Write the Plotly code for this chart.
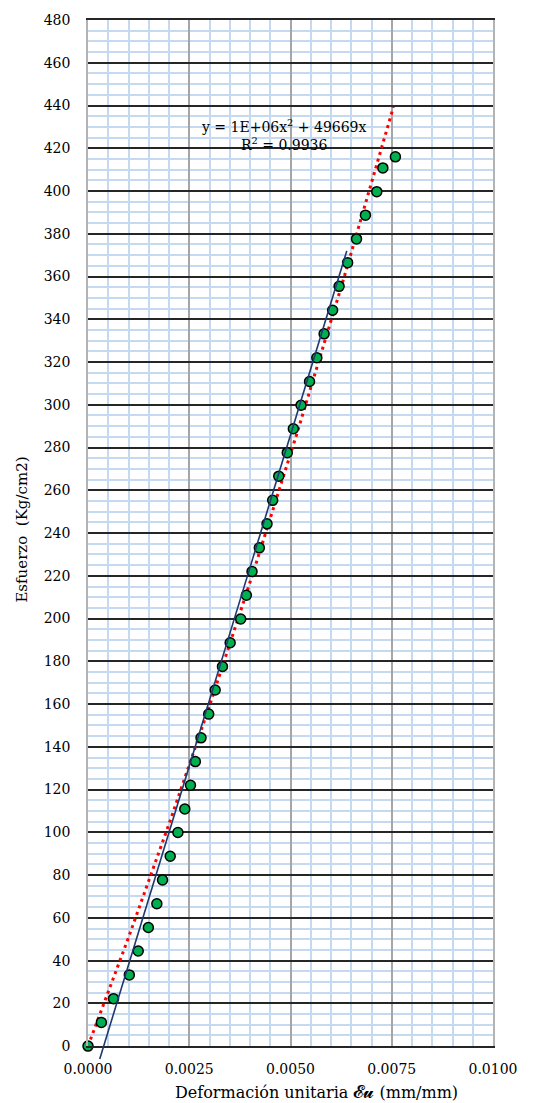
import numpy as np
import plotly.graph_objects as go

# ---- data ----
strain = [0.0, 0.00033, 0.00063, 0.00102, 0.00124, 0.00149, 0.00170, 0.00184, 0.00203,
          0.00222, 0.00239, 0.00253, 0.00265, 0.00279, 0.00298, 0.00314, 0.00332, 0.00351,
          0.00377, 0.00391, 0.00405, 0.00423, 0.00442, 0.00456, 0.00471, 0.00492, 0.00507,
          0.00526, 0.00547, 0.00565, 0.00583, 0.00604, 0.00620, 0.00641, 0.00663, 0.00685,
          0.00713, 0.00728, 0.00759]
stress = [0.0, 11.1, 22.2, 33.3, 44.5, 55.5, 66.6, 77.7, 88.8, 99.9, 110.9, 122.0, 133.1,
          144.2, 155.3, 166.6, 177.6, 188.7, 199.8, 210.9, 222.0, 233.1, 244.3, 255.3,
          266.6, 277.6, 288.8, 299.8, 310.9, 322.0, 333.2, 344.2, 355.4, 366.5, 377.6,
          388.7, 399.7, 410.8, 416.0]

# straight (modulus) line drawn on the chart: end points
modulus_x = [0.00029, 0.00639]
modulus_y = [-6.0, 372.0]

trend_a = 1.14e6
trend_b = 49669.0
trend_xmax = 0.00754

x_ticks = [0.0, 0.0025, 0.005, 0.0075, 0.01]
y_ticks = list(range(0, 481, 20))

eq_label = "y = 1E+06x<sup>2</sup> + 49669x<br>R<sup>2</sup> = 0.9936"

tx = np.linspace(0, trend_xmax, 200)
ty = trend_a * tx ** 2 + trend_b * tx

FONT = "DejaVu Serif"
W, H = 534, 1103
m_l, m_r, m_t, m_b = 88, 41, 13, 40
extra = 17  # px the modulus line may extend below the x axis
plot_h = H - m_t - m_b
plot_w = W - m_l - m_r
d0 = extra / plot_h
y2_low = -480 * d0 / (1 - d0)

fig = go.Figure()

fig.add_trace(go.Scatter(x=tx, y=ty, mode="lines",
                         line=dict(color="#FF0000", width=3, dash="3px,4px"),
                         hoverinfo="skip", showlegend=False))
fig.add_trace(go.Scatter(x=modulus_x, y=modulus_y, mode="lines",
                         line=dict(color="#1F3870", width=1.6),
                         xaxis="x2", yaxis="y2", showlegend=False))
fig.add_trace(go.Scatter(x=strain, y=stress, mode="markers",
                         marker=dict(size=10, color="#00B050",
                                     line=dict(color="#000000", width=1.5)),
                         showlegend=False, cliponaxis=False))

fig.update_layout(
    width=W, height=H,
    margin=dict(l=m_l, r=m_r, t=m_t, b=m_b),
    paper_bgcolor="white", plot_bgcolor="rgba(0,0,0,0)",
    font=dict(family=FONT, size=14, color="#000000"),
    xaxis=dict(range=[0, 0.01], tickvals=x_ticks, tickformat=".4f", domain=[0, 1],
               showgrid=True, gridcolor="#A6A6A6", gridwidth=1.6,
               minor=dict(dtick=0.0005, showgrid=True, gridcolor="#C5DAF0", gridwidth=1.5),
               showline=True, linecolor="#262626", linewidth=1.6, mirror=True,
               zeroline=False, ticks="", ticklabelstandoff=9,
               tickfont=dict(family=FONT, size=14), anchor="y"),
    yaxis=dict(range=[0, 480], tickvals=y_ticks, domain=[d0, 1],
               showgrid=True, gridcolor="#262626", gridwidth=1.6,
               minor=dict(dtick=5, showgrid=True, gridcolor="#C5DAF0", gridwidth=1.5),
               showline=True, linecolor="#B3B3B3", linewidth=1.6, mirror=True,
               zeroline=False, ticks="", ticklabelstandoff=13,
               tickfont=dict(family=FONT, size=14), anchor="x"),
    xaxis2=dict(range=[0, 0.01], domain=[0, 1], visible=False, anchor="y2"),
    yaxis2=dict(range=[y2_low, 480], domain=[0, 1], visible=False, anchor="x2"),
)

fig.add_annotation(x=0.00485, y=426, xref="x", yref="y", text=eq_label, showarrow=False,
                   font=dict(family=FONT, size=14), align="center")
# axis titles as paper annotations
fig.add_annotation(x=(316 - m_l) / plot_w, y=-(1092 - (H - m_b)) / plot_h,
                   xref="paper", yref="paper", showarrow=False,
                   text="Deformación unitaria <span style='font-size:18px'>𝓔𝓾</span> (mm/mm)",
                   font=dict(family=FONT, size=16), yanchor="middle", xanchor="center")
fig.add_annotation(x=-(m_l - 22) / plot_w, y=(H - m_b - 526) / plot_h,
                   xref="paper", yref="paper", showarrow=False, textangle=-90,
                   text="Esfuerzo  (Kg/cm2)",
                   font=dict(family=FONT, size=15), yanchor="middle", xanchor="center")

fig.write_html("out.html")
